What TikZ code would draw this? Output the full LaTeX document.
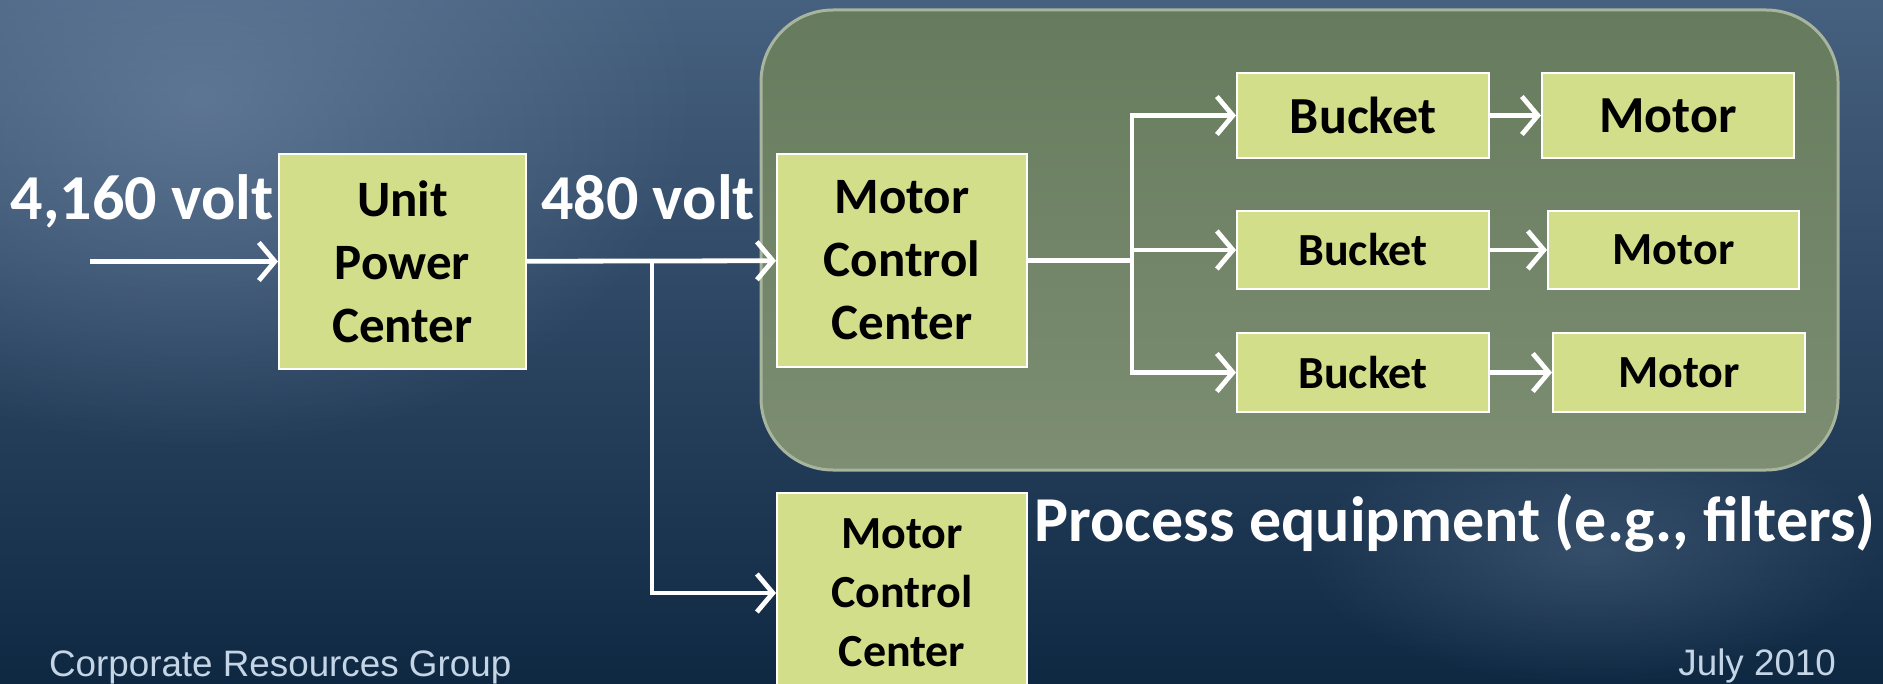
\documentclass[tikz,border=0pt]{standalone}
\usepackage{fontspec}
\setmainfont{Carlito}
\newfontfamily\footfont{Liberation Sans}
\usetikzlibrary{arrows.meta,fadings}
\definecolor{bgtop}{HTML}{46607F}
\definecolor{bgbot}{HTML}{0F2842}
\definecolor{bglight}{HTML}{6E86A4}
\definecolor{panel}{HTML}{667B5D}
\definecolor{panellight}{HTML}{7D8E72}
\definecolor{panelframe}{HTML}{A7B49E}
\definecolor{boxfill}{HTML}{D3DE8A}
\definecolor{foot}{HTML}{C4D5E6}
\tikzfading[name=glow,inner color=transparent!35,outer color=transparent!100]

\begin{document}
\begin{tikzpicture}[x=0.5pt,y=-0.5pt,
  unitbox/.style={draw=white,line width=1pt,fill=boxfill,inner sep=0pt,align=center,
    font=\bfseries\fontsize{25.5}{31.5}\selectfont},
  smallbox/.style={unitbox,font=\bfseries\fontsize{23}{29.5}\selectfont},
  wire/.style={draw=white,line width=2.4pt,-{Straight Barb[length=8pt,width=19pt]}},
  volt/.style={white,anchor=base,font=\bfseries\fontsize{32}{38}\selectfont}]
  % background
  \useasboundingbox (0,0) rectangle (1883,684);
  \shade[top color=bgtop,bottom color=bgbot] (0,0) rectangle (1883,684);
  \fill[bglight,path fading=glow] (-300,-250) rectangle (700,450);
  \fill[bglight,path fading=glow,opacity=0.5] (1300,420) rectangle (1883,684);
  % panel
  \path[draw=panelframe,line width=1.5pt,rounded corners=36pt,top color=panel,bottom color=panellight]
    (761,10) rectangle (1838,470);
  % boxes
  \node[unitbox,minimum width=123.5pt,minimum height=107.5pt] (upc) at (402.5,261.5) {Unit\\Power\\Center};
  \node[unitbox,minimum width=125pt,minimum height=106.5pt] (mcc1) at (902,260.5) {Motor\\Control\\Center};
  \node[smallbox,minimum width=125pt,minimum height=100pt] (mcc2) at (902,593) {Motor\\Control\\Center};
  \node[unitbox,font=\bfseries\fontsize{26}{31}\selectfont,minimum width=126pt,minimum height=42.5pt] (bucket1) at (1363,115.5) {Bucket};
  \node[smallbox,minimum width=126pt,minimum height=39pt] (bucket2) at (1363,250) {Bucket};
  \node[smallbox,minimum width=126pt,minimum height=39.5pt] (bucket3) at (1363,372.5) {Bucket};
  \node[unitbox,font=\bfseries\fontsize{26}{31}\selectfont,minimum width=126pt,minimum height=42.5pt] (motor1) at (1668,115.5) {Motor};
  \node[smallbox,minimum width=125.5pt,minimum height=39pt] (motor2) at (1673.5,250) {Motor};
  \node[smallbox,minimum width=126pt,minimum height=39.5pt] (motor3) at (1679,372.5) {Motor};
  % labels
  \node[volt] (hv) at (142,220) {4,160 volt};
  \node[volt] (lv) at (648,220) {480 volt};
  \node[volt] (proc) at (1455,541) {Process equipment (e.g., filters)};
  \node[foot,anchor=base west,font=\footfont\fontsize{18.4}{22}\selectfont] (org) at (42,676) {Corporate Resources Group};
  \node[foot,anchor=base east,font=\footfont\fontsize{18.4}{22}\selectfont] (date) at (1843,675) {July 2010};
  % wiring
  \coordinate (feed) at (90,261.5);
  \coordinate (tap) at (652,261);
  \coordinate (split) at (1132,260.5);
  \draw[wire] (feed) -- (upc);
  \draw[wire] (upc) -- (mcc1);
  \draw[wire] (tap) |- (mcc2);
  \draw[draw=white,line width=2.4pt] (mcc1) -- (split);
  \foreach \i in {1,2,3}{
    \draw[wire] (split) |- (bucket\i);
    \draw[wire] (bucket\i) -- (motor\i);
  }
\end{tikzpicture}
\end{document}
